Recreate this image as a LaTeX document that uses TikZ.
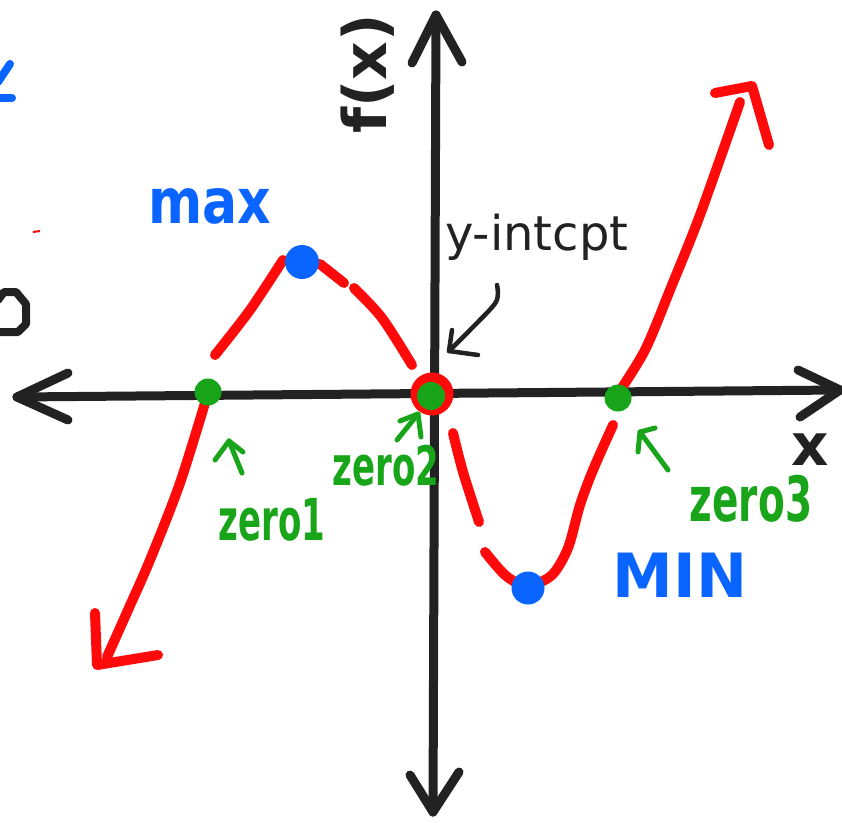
\documentclass[tikz,border=0pt]{standalone}
\usepackage{fontspec}
\setmainfont{DejaVu Sans}
\definecolor{inkred}{RGB}{255,10,10}
\definecolor{inkgreen}{RGB}{25,165,25}
\definecolor{inkblue}{RGB}{10,100,255}
\definecolor{inkblack}{RGB}{34,34,34}
\tikzset{
  axisline/.style={draw=inkblack, line width=9pt, line cap=round, line join=round},
  thinblack/.style={draw=inkblack, line width=4.5pt, line cap=round, line join=round},
  curve/.style={draw=inkred, line width=10pt, line cap=round, line join=round},
  garrow/.style={draw=inkgreen, line width=5pt, line cap=round, line join=round},
  bluedot/.style={circle, fill=inkblue, inner sep=0pt, minimum size=34pt},
  greendot/.style={circle, fill=inkgreen, inner sep=0pt, minimum size=27pt},
  bluelbl/.style={text=inkblue, inner sep=0pt, font=\bfseries},
  greenlbl/.style={text=inkgreen, inner sep=0pt, font=\bfseries},
  blacklbl/.style={text=inkblack, inner sep=0pt},
}
\begin{document}
\begin{tikzpicture}[x=1pt, y=-1pt]
\useasboundingbox (0,0) rectangle (842,822);
\fill[white] (0,0) rectangle (842,822);

% left-edge fragments
\draw[draw=inkblue, line width=8pt, line cap=round] (-2,82) -- (10,64);
\draw[draw=inkblue, line width=8pt, line cap=round] (-2,98) -- (12,98);
\draw[axisline, line width=8pt] (-2,300) -- (4,292) -- (16,292) -- (26,304) -- (26,324) -- (18,332) -- (-2,332);
\draw[draw=inkred, line width=2pt] (33,232) -- (40,231);

% axes
\coordinate (xl) at (17,397);
\coordinate (xr) at (840,390);
\coordinate (yt) at (436,15);
\coordinate (yb) at (433,812);
\draw[axisline] (xl) -- (xr);
\draw[axisline] (68,373) -- (xl) -- (68,420);
\draw[axisline] (798,370) -- (xr) -- (800,417);
\draw[axisline] (yt) -- (yb);
\draw[axisline] (412,63) -- (yt) -- (462,62);
\draw[axisline] (410,775) -- (yb) -- (459,772);

% axis labels
\node[blacklbl, rotate=90, font=\bfseries\fontsize{60}{60}\selectfont] (fx) at (368,74) {f(x)};
\node[blacklbl, font=\bfseries\fontsize{58}{58}\selectfont] (xlab) at (810,450) {x};

% red curve
\draw[curve] plot[smooth] coordinates {(107,657) (128,610) (150,560) (180,483) (208,393)};
\draw[curve] (95,613) -- (97,665) -- (158,655);
\draw[curve] plot[smooth] coordinates {(215,355) (250,310) (283,260)};
\draw[curve] (320,264) -- (344,283);
\draw[curve] plot[smooth] coordinates {(354,288) (382,318) (412,365)};
\draw[curve] plot[smooth] coordinates {(453,433) (463,472) (479,522)};
\draw[curve] plot[smooth] coordinates {(485,552) (505,575) (528,590)};
\draw[curve] plot[smooth] coordinates {(528,588) (552,575) (568,548) (580,505) (593,470) (613,425)};
\draw[curve] plot[smooth] coordinates {(617,395) (645,350) (672,285) (700,215) (740,102)};
\draw[curve] (715,93) -- (752,86) -- (769,145);

% points
\node[bluedot] (max) at (302,262) {};
\node[bluedot, minimum size=33pt] (min) at (528,588) {};
\node[greendot] (z1) at (208,392) {};
\node[circle, fill=inkred, inner sep=0pt, minimum size=43pt] (z2ring) at (432,394) {};
\node[greendot, minimum size=28pt] (z2) at (431,396) {};
\node[greendot] (z3) at (618,398) {};

% blue labels
\node[bluelbl, font=\bfseries\fontsize{52}{52}\selectfont] (maxlbl) at (210,206) {\scalebox{1}[1.2]{max}};
\node[bluelbl, font=\bfseries\fontsize{61}{61}\selectfont] (minlbl) at (680,575) {MIN};

% green labels
\node[greenlbl, font=\bfseries\fontsize{34}{34}\selectfont] (zero1) at (272,520) {\scalebox{1}[1.7]{zero1}};
\node[greenlbl, font=\bfseries\fontsize{34}{34}\selectfont] (zero2) at (386,466) {\scalebox{1}[1.6]{zero2}};
\node[greenlbl, font=\bfseries\fontsize{39}{39}\selectfont] (zero3) at (751,499) {\scalebox{1}[1.6]{zero3}};

% green arrows
\draw[garrow] (215,460) -- (229,441) -- (243,452);
\draw[garrow] (229,441) -- (242,473);
\draw[garrow] (400,421) -- (418,414) -- (421,437);
\draw[garrow] (418,414) -- (397,440);
\draw[garrow] (655,428) -- (640,432) -- (638,452);
\draw[garrow] (640,432) -- (668,470);

% y-intercept label and arrow
\node[blacklbl, anchor=base west, font=\fontsize{48}{48}\selectfont] (yint) at (445,250) {y-intcpt};
\draw[thinblack] plot[smooth] coordinates {(497,285) (496,302) (472,328) (449,351)};
\draw[thinblack] (452,330) -- (449,351) -- (478,355);
\end{tikzpicture}
\end{document}
